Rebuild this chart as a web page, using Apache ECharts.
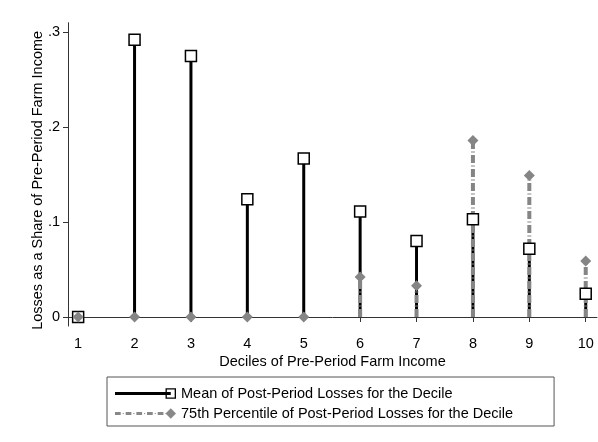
<!DOCTYPE html>
<html>
<head>
<meta charset="utf-8">
<script src="https://cdn.jsdelivr.net/npm/echarts@6/dist/echarts.min.js"></script>
<style>html,body{margin:0;padding:0;background:#fff;}#c{width:598px;height:442px;}</style>
</head>
<body>
<div id="c"></div>
<script>
var deciles = [1, 2, 3, 4, 5, 6, 7, 8, 9, 10];
var meanLoss = [0.000, 0.292, 0.275, 0.124, 0.167, 0.111, 0.080, 0.103, 0.072, 0.0245];
var p75Loss = [0.000, 0.000, 0.000, 0.000, 0.000, 0.042, 0.033, 0.186, 0.149, 0.059];
var yTicks = [0, 0.1, 0.2, 0.3];
var yTickLabels = ['0', '.1', '.2', '.3'];
var meanName = 'Mean of Post-Period Losses for the Decile';
var p75Name = '75th Percentile of Post-Period Losses for the Decile';

var FONT = '"Liberation Sans", Arial, Helvetica, sans-serif';
var FS = 14.5;

function pairs(vals) { return deciles.map(function (d, i) { return [d, vals[i]]; }); }

function stem(color, width, dash) {
  return function (params, api) {
    var p0 = api.coord([api.value(0), 0]);
    var p1 = api.coord([api.value(0), api.value(1)]);
    return {
      type: 'line',
      shape: { x1: p0[0], y1: p0[1], x2: p1[0], y2: p1[1] },
      style: { stroke: color, lineWidth: width, lineDash: dash || null, lineCap: 'butt' }
    };
  };
}

// legend icon paths (line sample + marker at the right end)
var meanIcon = 'path://M0 4 H58.5 V7 H0 Z M53 0 H64 V11 H53 Z M54.4 1.4 V9.6 H62.6 V1.4 Z';
var dashParts = '';
var x = 0;
while (x < 54) {
  var w = Math.min(6, 54 - x);
  dashParts += 'M' + x + ' 4 H' + (x + w) + ' V7 H' + x + ' Z ';
  x += w + 2;
  if (x < 54) { dashParts += 'M' + x + ' 5 H' + (x + 1.2) + ' V6 H' + x + ' Z '; }
  x += 3.2;
}
var p75Icon = 'path://' + dashParts + 'M58.5 0 L64 5.5 L58.5 11 L53 5.5 Z';

var chart = echarts.init(document.getElementById('c'), null, { renderer: 'canvas' });
chart.setOption({
  animation: false,
  backgroundColor: '#fff',
  textStyle: { fontFamily: FONT },
  grid: { left: 68, right: 1, top: 22.7, bottom: 116, containLabel: false },
  xAxis: {
    type: 'value', min: 0.82, max: 10.2,
    name: 'Deciles of Pre-Period Farm Income', nameLocation: 'middle', nameGap: 28,
    nameMoveOverlap: false,
    nameTextStyle: { color: '#000', fontSize: FS, fontFamily: FONT },
    axisLine: { show: true, lineStyle: { color: '#333', width: 1 } },
    axisTick: { show: true, length: 5, customValues: deciles, lineStyle: { color: '#333' } },
    axisLabel: { customValues: deciles, color: '#000', fontSize: FS, fontFamily: FONT, margin: 10 },
    splitLine: { show: false }
  },
  yAxis: {
    type: 'value', min: -0.0095, max: 0.31,
    name: 'Losses as a Share of Pre-Period Farm Income', nameLocation: 'middle', nameGap: 23,
    nameMoveOverlap: false,
    nameTextStyle: { color: '#000', fontSize: FS, fontFamily: FONT, padding: [0, 12, 0, 0] },
    axisLine: { show: true, lineStyle: { color: '#333', width: 1 } },
    axisTick: { show: true, length: 5, customValues: yTicks, lineStyle: { color: '#333' } },
    axisLabel: {
      customValues: yTicks, color: '#000', fontSize: FS, fontFamily: FONT, margin: 8,
      formatter: function (v) { var i = yTicks.indexOf(v); return i >= 0 ? yTickLabels[i] : ''; }
    },
    splitLine: { show: false }
  },
  legend: {
    orient: 'vertical', left: 107, top: 377,
    padding: [9, 41, 5, 8], itemGap: 5, itemWidth: 61, itemHeight: 11,
    borderColor: '#555', borderWidth: 1,
    textStyle: { color: '#000', fontSize: FS, fontFamily: FONT },
    data: [
      { name: meanName, icon: meanIcon, itemStyle: { color: '#000', borderWidth: 0 } },
      { name: p75Name, icon: p75Icon, itemStyle: { color: '#888', borderWidth: 0 } }
    ]
  },
  series: [
    { name: meanName, type: 'custom', data: pairs(meanLoss), renderItem: stem('#000', 3), z: 2 },
    { name: p75Name, type: 'custom', data: pairs(p75Loss), renderItem: stem('#858585', 4, [8, 2.5, 1, 2.5]), z: 3 },
    { name: meanName, type: 'scatter', data: pairs(meanLoss), symbol: 'rect', symbolSize: 11,
      itemStyle: { color: '#fff', borderColor: '#000', borderWidth: 1.5, opacity: 1 }, z: 4 },
    { name: p75Name, type: 'scatter', data: pairs(p75Loss), symbol: 'diamond', symbolSize: 11,
      itemStyle: { color: '#858585', opacity: 1 }, z: 5 }
  ]
});
</script>
</body>
</html>
